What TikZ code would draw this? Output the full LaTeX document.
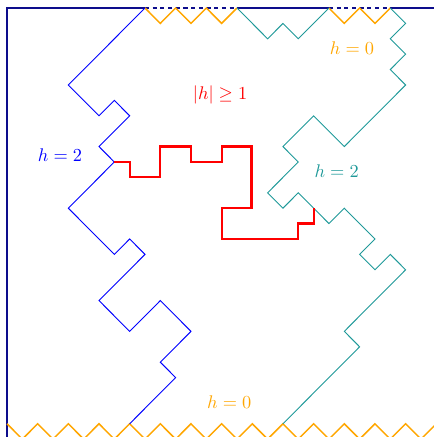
\documentclass[tikz,border=0pt]{standalone}
\usepackage{amssymb}
\definecolor{navyc}{rgb}{0.05,0.05,0.55}
\definecolor{orangec}{rgb}{1,0.65,0}
\definecolor{tealc}{rgb}{0.12,0.6,0.6}
\tikzset{
  navyline/.style={navyc, line width=1.1pt},
  navydash/.style={navyc, line width=1.1pt, dash pattern=on 2.2pt off 2pt},
  zig/.style={orangec, line width=0.8pt, line join=miter},
  bluepath/.style={blue, line width=0.5pt},
  tealpath/.style={tealc, line width=0.5pt},
  redpath/.style={red, line width=1.2pt},
  lbl/.style={inner sep=0pt}
}
\begin{document}
\begin{tikzpicture}[x=0.294cm, y=-0.2953cm]
\useasboundingbox (-0.457,-0.52) rectangle (27.85,27.86);
% coordinates
\coordinate (tl) at (0,0);
\coordinate (bl) at (0,28.5);
\coordinate (tr) at (28.5,0);
\coordinate (b9) at (9,0);
\coordinate (b15) at (15,0);
\coordinate (b21) at (21,0);
\coordinate (b25) at (25,0);
\coordinate (j1) at (7,10);
\coordinate (j2) at (20,13);
\coordinate (bot8) at (8,27);
\coordinate (bot18) at (18,27);
% frame
\draw[navyline] (bl) -- (tl) -- (b9);
\draw[navydash] (b9) -- (b15);
\draw[navyline] (b15) -- (b21);
\draw[navydash] (b21) -- (b25);
\draw[navyline] (b25) -- (tr);
% top zigzags
\draw[zig] (b9) -- (10,1) -- (11,0) -- (12,1) -- (13,0) -- (14,1) -- (b15);
\draw[zig] (b21) -- (22,1) -- (23,0) -- (24,1) -- (b25);
% bottom zigzag
\draw[zig] (0,27) \foreach \i in {0,2,...,28} { -- (\i,27) -- (\i+1,28) };
% blue path
\draw[bluepath] (b9) -- (4,5) -- (6,7) -- (7,6) -- (8,7) -- (6,9) -- (j1)
  -- (4,13) -- (7,16) -- (8,15) -- (9,16) -- (6,19) -- (8,21) -- (10,19)
  -- (12,21) -- (10,23) -- (11,24) -- (bot8);
% teal path
\draw[tealpath] (b15) -- (17,2) -- (18,1) -- (19,2) -- (b21);
\draw[tealpath] (b25) -- (26,1) -- (25,2) -- (26,3) -- (25,4) -- (26,5)
  -- (22,9) -- (20,7) -- (18,9) -- (19,10) -- (17,12) -- (18,13) -- (19,12)
  -- (j2) -- (21,14) -- (22,13) -- (24,15) -- (23,16) -- (24,17) -- (25,16)
  -- (26,17) -- (22,21) -- (23,22) -- (bot18);
% red path
\draw[redpath, line join=miter] (j1) -- (8,10) -- (8,11) -- (10,11) -- (10,9) -- (12,9)
  -- (12,10) -- (14,10) -- (14,9) -- (15.95,9) -- (15.95,13) -- (14,13)
  -- (14,15) -- (19,15) -- (19,14) -- (20,14) -- (j2);
% labels
\node[lbl, red] (lh) at (13.9,5.65) {$|h|\geq 1$};
\node[lbl, blue] (lb) at (3.46,9.55) {$h=2$};
\node[lbl, orangec] (lo1) at (22.5,2.6) {$h=0$};
\node[lbl, tealc] (lt) at (21.5,10.6) {$h=2$};
\node[lbl, orangec] (lo2) at (14.5,25.6) {$h=0$};
\end{tikzpicture}
\end{document}
